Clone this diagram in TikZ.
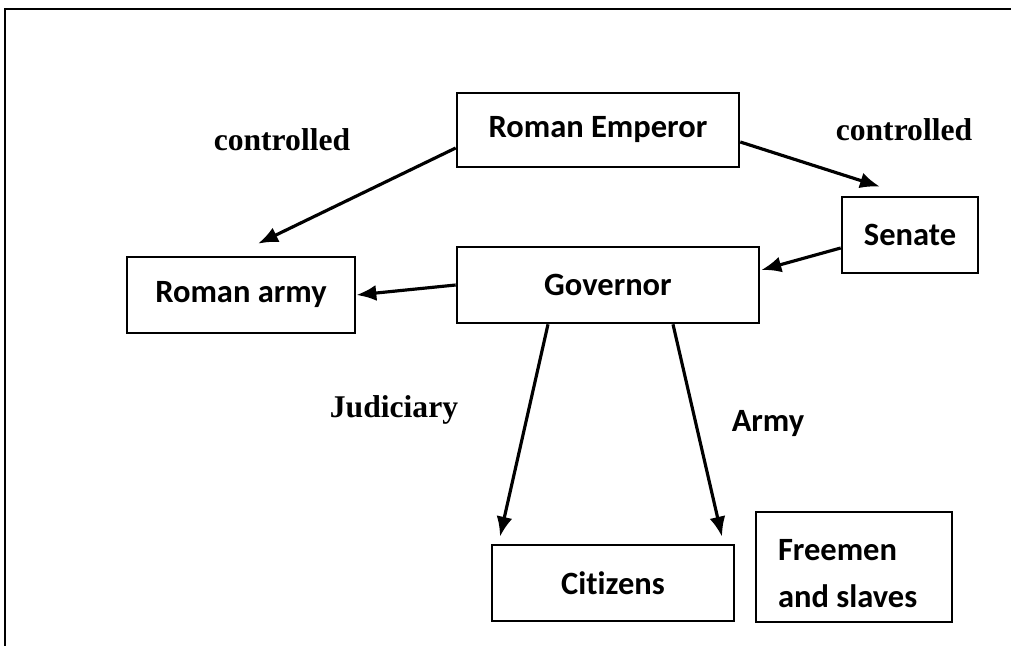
\documentclass[tikz,border=0pt]{standalone}
\usepackage{fontspec}
\setmainfont{Liberation Serif}
\newfontfamily\calibri[Ligatures=NoCommon]{Carlito}
\usetikzlibrary{arrows.meta}
\tikzset{>={Latex[length=4mm, width=3.2mm]}}
\tikzset{
    rbox/.style={draw, line width=1.5pt, minimum width=#1*0.02cm, inner sep=0pt, font=\calibri\bfseries\fontsize{18.5}{22}\selectfont},
    lbl/.style={font=\bfseries\fontsize{18}{21}\selectfont},
    link/.style={line width=1.8pt, ->}
}

\begin{document}
\begin{tikzpicture}[x=0.02cm, y=-0.02cm]
    \useasboundingbox(0, 0)rectangle(1011, 646);
    \draw[line width=1.6pt](1011, 9)--(5, 9)--(5, 646);
    \node[rbox=282, minimum height=1.48cm](emp)at(598, 130){Roman Emperor};
    \node[rbox=136, minimum height=1.52cm](sen)at(910, 235){Senate};
    \node[rbox=302, minimum height=1.52cm](gov)at(608, 285){Governor};
    \node[rbox=228, minimum height=1.52cm](army)at(241, 295){Roman army};
    \node[rbox=242, minimum height=1.52cm](cit)at(613, 583){Citizens};
    \node[rbox=196, minimum height=2.2cm, text width=3.04cm, inner xsep=0.44cm, align=flush left, font=\calibri\bfseries\fontsize{18.5}{26.7}\selectfont](free)at(854, 567){\rule{0pt}{0.7cm}Freemen\\and slaves};
    \draw[link]([shift={(0, 18)}]emp.west)--([shift={(17, -12)}]army.north);
    \draw[link]([shift={(0, 12)}]emp.east)--([shift={(-30, -9)}]sen.north);
    \draw[link]([shift={(0, 13)}]sen.west)--([shift={(1, -15)}]gov.east);
    \draw[link](gov.west)--(army.east);
    \draw[link]([shift={(-60, 0)}]gov.south)--([shift={(-113, -7)}]cit.north);
    \draw[link]([shift={(65, 0)}]gov.south)--([shift={(109, -7)}]cit.north);
    \node[lbl](ctl1)at(282, 140){controlled};
    \node[lbl](ctl2)at(904, 130){controlled};
    \node[lbl](jud)at(394, 410){Judiciary};
    \node[font=\calibri\bfseries\fontsize{18.5}{22}\selectfont](arm)at(768, 424){Army};
\end{tikzpicture}
\end{document}
